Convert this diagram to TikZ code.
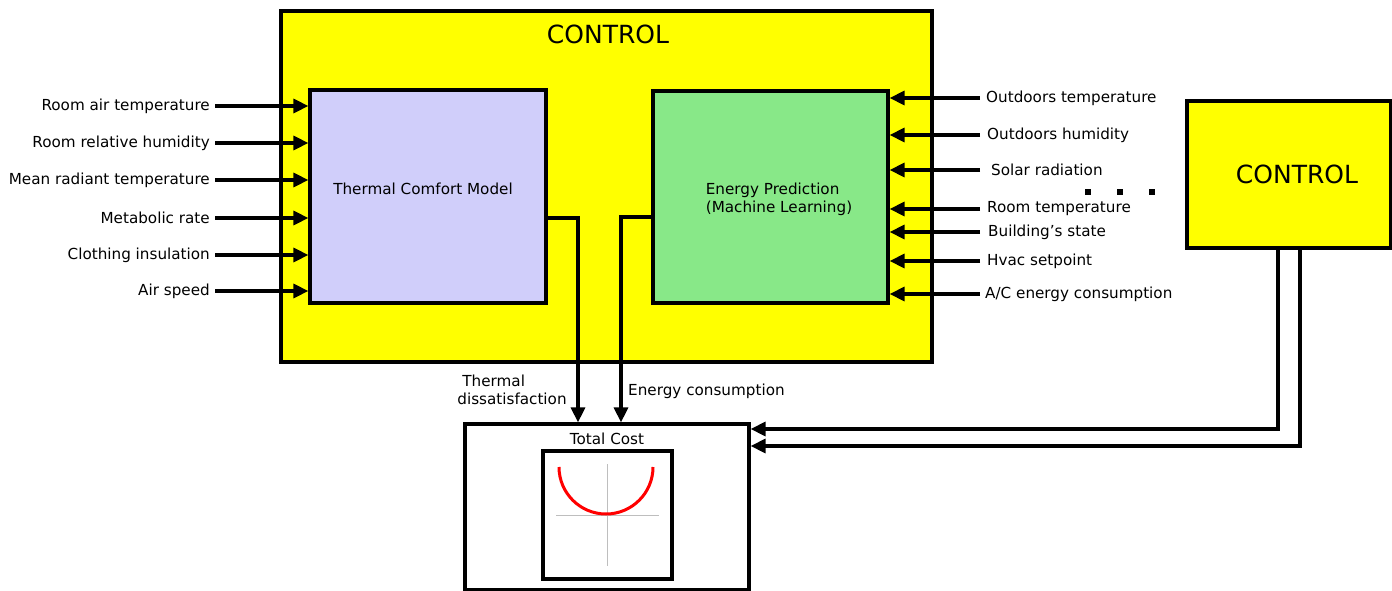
\documentclass[tikz,border=0pt]{standalone}
\usepackage{fontspec}
\setmainfont{DejaVu Sans}
\usetikzlibrary{arrows.meta}
\definecolor{ctrlyellow}{RGB}{255,255,0}
\definecolor{thlav}{RGB}{208,206,250}
\definecolor{engreen}{RGB}{136,232,136}
\definecolor{axgray}{RGB}{190,190,190}
\tikzset{
  boxy/.style={draw=black, line width=3.2pt, inner sep=0pt},
  arr/.style={line width=3.2pt, -{Triangle[length=15pt,width=14pt]}},
  lbl/.style={inner sep=0pt, font=\fontsize{15.2}{18}\selectfont},
  bigt/.style={inner sep=0pt, font=\fontsize{25}{29}\selectfont},
  dot/.style={fill=black, minimum size=5.5pt, inner sep=0pt},
}
\begin{document}
\begin{tikzpicture}[x=1pt,y=-1pt]
\useasboundingbox (0,0) rectangle (1392,591);
% main control box
\node[boxy, fill=ctrlyellow, minimum width=651pt, minimum height=351pt] (ctrl) at (606.5,186.5) {};
\node[bigt] (ctitle) at (608,34) {CONTROL};
\node[boxy, fill=thlav, minimum width=236pt, minimum height=213pt] (th) at (428,196.5) {};
\node[lbl] (tht) at (423,189) {Thermal Comfort Model};
\node[boxy, fill=engreen, minimum width=235pt, minimum height=212pt] (en) at (770.5,197) {};
\node[lbl, align=left] (ent) at (779,199) {Energy Prediction\\(Machine Learning)};
% left inputs
\foreach \n/\y/\t in {l1/106/Room air temperature, l2/143/Room relative humidity, l3/180/Mean radiant temperature, l4/218/Metabolic rate, l5/255/Clothing insulation, l6/291/Air speed}{
  \node[lbl, anchor=east] (\n) at (210,\y) {\t};
  \draw[arr] ([xshift=5pt]\n.east) -- (\n.east -| th.west);
}
% right inputs
\foreach \n/\y/\x/\t in {r1/98/986/Outdoors temperature, r2/135/987/Outdoors humidity, r3/170/991/Solar radiation, r4/209/987/Room temperature, r5/232/988/Building’s state, r6/261/987/Hvac setpoint, r7/294/985/{A/C energy consumption}}{
  \node[lbl, anchor=west] (\n) at (\x,\y) {\t};
  \draw[arr] (\n.west -| 980,0) -- (\n.west -| en.east);
}
% dots
\node[dot] (d1) at (1088,192) {};
\node[dot] (d2) at (1120,192) {};
\node[dot] (d3) at (1152,192) {};
% small control
\node[boxy, fill=ctrlyellow, minimum width=204pt, minimum height=147pt] (sc) at (1289,174.5) {};
\node[bigt] (sct) at (1297,174) {CONTROL};
% total cost
\node[boxy, fill=white, minimum width=284pt, minimum height=166pt] (cost) at (607,507) {};
\node[lbl] (costt) at (607,439) {Total Cost};
\node[boxy, fill=white, minimum width=129pt, minimum height=128pt] (plot) at (607.5,515) {};
\draw[axgray, line width=1pt] (556,515) -- (659,515);
\draw[axgray, line width=1pt] (607,464) -- (607,566);
\draw[red, line width=3pt] (559,467) arc[start angle=180, end angle=0, radius=47];
% outputs
\draw[arr] ([yshift=-21.5pt]th.east) -| ([xshift=-29pt]cost.north);
\draw[arr] ([yshift=-20pt]en.west) -| ([xshift=14pt]cost.north);
\node[lbl, align=left] (tdl) at (512,390) {\hspace{5pt}Thermal\\dissatisfaction};
\node[lbl, anchor=west] (ecl) at (628,391) {Energy consumption};
% feedback from small control
\draw[arr] ([xshift=-11pt]sc.south) |- ([yshift=78pt]cost.east);
\draw[arr] ([xshift=11pt]sc.south) |- ([yshift=61pt]cost.east);
\end{tikzpicture}
\end{document}
